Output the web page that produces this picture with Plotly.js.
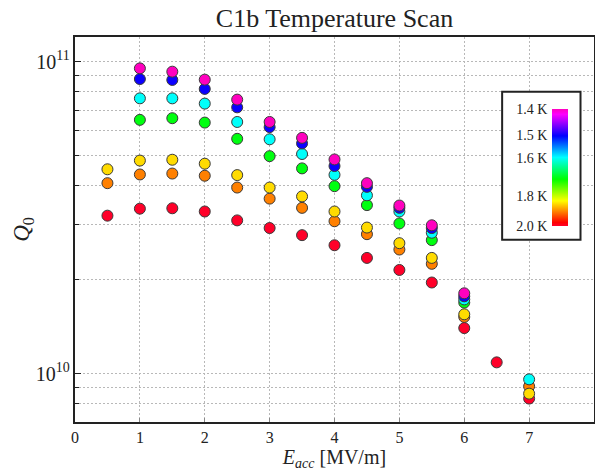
<!DOCTYPE html>
<html><head><meta charset="utf-8">
<script src="https://cdn.plot.ly/plotly-3.0.1.min.js"></script>
<style>html,body{margin:0;padding:0;background:#fff}#chart{width:595px;height:474px}</style>
</head><body><div id="chart"></div>
<script>
// Bath temperatures (K) of each series, drawn in this order (hottest first)
const T_200 = 2.0, T_190 = 1.9, T_185 = 1.85, T_170 = 1.7, T_160 = 1.6, T_150 = 1.5, T_140 = 1.4;

// Eacc [MV/m] and Q0 per temperature
const E_200 = [0.5, 1, 1.5, 2, 2.5, 3, 3.5, 4, 4.5, 5, 5.5, 6, 6.5, 7];
const Q_200 = [3.21e10, 3.38e10, 3.39e10, 3.31e10, 3.10e10, 2.93e10, 2.78e10, 2.58e10, 2.35e10, 2.15e10, 1.96e10, 1.40e10, 1.087e10, 8.32e9];

const E_190 = [0.5, 1, 1.5, 2, 2.5, 3, 3.5, 4, 4.5, 5, 5.5, 6, 7];
const Q_190 = [4.08e10, 4.35e10, 4.38e10, 4.31e10, 3.95e10, 3.64e10, 3.40e10, 3.08e10, 2.80e10, 2.50e10, 2.25e10, 1.52e10, 9.11e9];

const E_185 = [0.5, 1, 1.5, 2, 2.5, 3, 3.5, 4, 4.5, 5, 5.5, 6, 7];
const Q_185 = [4.52e10, 4.82e10, 4.85e10, 4.71e10, 4.33e10, 3.95e10, 3.70e10, 3.31e10, 2.94e10, 2.62e10, 2.35e10, 1.55e10, 8.63e9];

const E_170 = [1, 1.5, 2, 2.5, 3, 3.5, 4, 4.5, 5, 5.5, 6];
const Q_170 = [6.51e10, 6.59e10, 6.38e10, 5.66e10, 4.98e10, 4.55e10, 3.99e10, 3.47e10, 3.03e10, 2.68e10, 1.69e10];

const E_160 = [1, 1.5, 2, 2.5, 3, 3.5, 4, 4.5, 5, 5.5, 6, 7];
const Q_160 = [7.63e10, 7.63e10, 7.34e10, 6.41e10, 5.64e10, 5.06e10, 4.34e10, 3.73e10, 3.31e10, 2.83e10, 1.73e10, 9.59e9];

const E_150 = [1, 1.5, 2, 2.5, 3, 3.5, 4, 4.5, 5, 5.5, 6];
const Q_150 = [8.80e10, 8.74e10, 8.18e10, 7.14e10, 6.17e10, 5.47e10, 4.63e10, 3.97e10, 3.40e10, 2.93e10, 1.77e10];

const E_140 = [1, 1.5, 2, 2.5, 3, 3.5, 4, 4.5, 5, 5.5, 6];
const Q_140 = [9.52e10, 9.29e10, 8.76e10, 7.56e10, 6.41e10, 5.70e10, 4.86e10, 4.08e10, 3.46e10, 2.99e10, 1.81e10];

// Colour bar tick temperatures and labels
const CB_TEMPS = [1.4, 1.5, 1.6, 1.8, 2.0];
const CB_LABELS = ['1.4 K', '1.5 K', '1.6 K', '1.8 K', '2.0 K'];

// ---- build ----
const SERIES = [
  [T_200, E_200, Q_200], [T_190, E_190, Q_190], [T_185, E_185, Q_185],
  [T_170, E_170, Q_170], [T_160, E_160, Q_160], [T_150, E_150, Q_150], [T_140, E_140, Q_140]
];
const CMIN = 1 / Math.max(...CB_TEMPS), CMAX = 1 / Math.min(...CB_TEMPS);
const RAINBOW = [
  [0.000, 'rgb(255,0,41)'], [0.030, 'rgb(255,0,0)'], [0.215, 'rgb(255,255,0)'],
  [0.400, 'rgb(0,255,0)'], [0.586, 'rgb(0,255,255)'], [0.770, 'rgb(0,0,255)'],
  [0.954, 'rgb(255,0,255)'], [1.000, 'rgb(255,0,191)']
];
const FONT = 'Liberation Serif, "Times New Roman", serif';
const GRID = '#b8b8b8';
const DASH = '2px,2px';

const traces = SERIES.map(([T, E, Q], i) => ({
  type: 'scatter', mode: 'markers', x: E, y: Q, hoverinfo: 'skip', showlegend: false,
  marker: {
    size: 11, color: E.map(() => 1 / T), colorscale: RAINBOW, cmin: CMIN, cmax: CMAX,
    line: {color: '#3a3a3a', width: 1},
    showscale: i === SERIES.length - 1,
    colorbar: {
      x: 0.92, xanchor: 'left', y: 0.509, yanchor: 'bottom', len: 0.303, lenmode: 'fraction',
      thickness: 16, thicknessmode: 'pixels', xpad: 0, ypad: 0, outlinewidth: 0,
      showticklabels: false, ticks: '', bgcolor: 'rgba(0,0,0,0)', borderwidth: 0
    }
  }
}));
// carrier for the colour-bar label axis
traces.push({type: 'scatter', mode: 'markers', x: [0.5, 0.5], y: [CMIN, CMAX], xaxis: 'x2', yaxis: 'y2',
  marker: {opacity: 0}, hoverinfo: 'skip', showlegend: false});

const layout = {
  width: 595, height: 474,
  margin: {l: 75, r: 1, t: 37, b: 52},
  paper_bgcolor: 'white', plot_bgcolor: 'white',
  font: {family: FONT, color: '#222', size: 16},
  hovermode: false, showlegend: false,
  title: {text: 'C1b Temperature Scan', font: {size: 26, family: FONT, color: '#222'},
    x: 0.5, xref: 'paper', xanchor: 'center', y: 0.962, yref: 'container', yanchor: 'middle'},
  xaxis: {
    range: [0, 8], dtick: 1, tick0: 0, ticks: 'inside', ticklen: 4, tickcolor: '#888',
    showgrid: true, gridcolor: GRID, griddash: DASH, gridwidth: 1, zeroline: false,
    showline: true, linecolor: '#222', linewidth: 2, mirror: true,
    tickfont: {size: 16},
    title: {text: '<i>E</i><sub><i>acc</i></sub> [MV/m]', font: {size: 20}, standoff: 4}
  },
  yaxis: {
    type: 'log', range: [Math.log10(7e9), Math.log10(1.2e11)], dtick: 1, exponentformat: 'power',
    ticks: 'inside', ticklen: 6, tickcolor: '#222',
    showgrid: true, gridcolor: GRID, griddash: DASH, gridwidth: 1, zeroline: false,
    minor: {dtick: 'D1', ticks: 'inside', ticklen: 4, tickcolor: '#222', showgrid: true, gridcolor: GRID, griddash: DASH},
    showline: true, linecolor: '#222', linewidth: 2, mirror: true,
    tickfont: {size: 16},
    title: {text: '<i>Q</i><sub>0</sub>', font: {size: 23}, standoff: 0}
  },
  xaxis2: {domain: [0.912, 0.92], anchor: 'y2', range: [0, 1], visible: false},
  yaxis2: {
    domain: [0.509, 0.812], anchor: 'x2', side: 'left', range: [CMIN, CMAX],
    tickvals: CB_TEMPS.map(t => 1 / t), ticktext: CB_LABELS,
    ticks: '', showgrid: false, zeroline: false, showline: false, tickfont: {size: 14}
  },
  shapes: [{type: 'rect', xref: 'x', yref: 'y', x0: 6.584, x1: 7.792, y0: 2.685e10, y1: 8.017e10,
    line: {color: '#222', width: 2}, fillcolor: 'white', layer: 'between'}]
};

Plotly.newPlot('chart', traces, layout, {staticPlot: true, displayModeBar: false});
</script>
</body></html>
